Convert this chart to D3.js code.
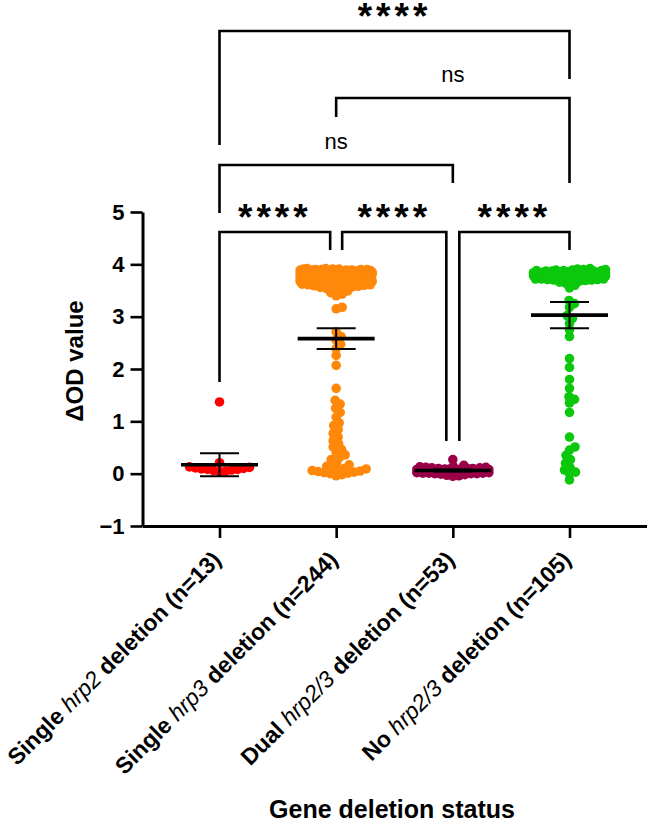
<!DOCTYPE html>
<html>
<head>
<meta charset="utf-8">
<script src="https://cdn.jsdelivr.net/npm/d3@7/dist/d3.min.js"></script>
<style>
  html, body { margin: 0; padding: 0; background: #ffffff; }
  svg { display: block; font-family: Arial, "Liberation Sans", sans-serif; }
</style>
</head>
<body>
<svg id="chart" width="649" height="823"></svg>
<script>
// ---------------- DATA ----------------
const categories = ["hrp2", "hrp3", "dual", "none"];
const labelPrefix = ["Single", "Single", "Dual", "No"];
const labelGene = ["hrp2", "hrp3", "hrp2/3", "hrp2/3"];
const labelSuffix = ["deletion (n=13)", "deletion (n=244)", "deletion (n=53)", "deletion (n=105)"];
const colors = ["#ff0000", "#ff880a", "#990048", "#0cc80c"];

const valuesHrp2 = [1.37, 0.21, 0.13, 0.12, 0.11, 0.10, 0.09, 0.08, 0.08, 0.07, 0.06, 0.05, 0.04];

const valuesHrp3 = [
  3.92,3.92,
  3.91,3.91,3.91,
  3.90,3.90,3.90,3.90,
  3.89,3.89,3.89,3.89,3.89,
  3.88,3.88,3.88,3.88,3.88,3.88,
  3.87,3.87,3.87,3.87,3.87,3.87,
  3.86,3.86,3.86,3.86,3.86,3.86,3.86,3.86,
  3.85,3.85,3.85,3.85,3.85,3.85,3.85,3.85,3.85,
  3.84,3.84,3.84,3.84,3.84,3.84,3.84,3.84,3.84,
  3.83,3.83,3.83,3.83,3.83,3.83,3.83,3.83,3.83,
  3.82,3.82,3.82,3.82,3.82,3.82,3.82,3.82,3.82,
  3.81,3.81,3.81,3.81,3.81,3.81,3.81,3.81,3.81,
  3.80,3.80,3.80,3.80,3.80,3.80,3.80,3.80,3.80,
  3.79,3.79,3.79,3.79,3.79,3.79,3.79,3.79,3.79,
  3.78,3.78,3.78,3.78,3.78,3.78,3.78,3.78,3.78,
  3.77,3.77,3.77,3.77,3.77,3.77,3.77,3.77,
  3.76,3.76,3.76,3.76,3.76,3.76,3.76,
  3.75,3.75,3.75,3.75,3.75,3.75,3.75,
  3.74,3.74,3.74,3.74,3.74,3.74,3.74,
  3.73,3.73,3.73,3.73,3.73,3.73,3.73,
  3.72,3.72,3.72,3.72,3.72,3.72,
  3.71,3.71,3.71,3.71,3.71,
  3.70,3.70,3.70,3.70,3.70,
  3.69,3.69,3.69,3.69,3.69,
  3.68,3.68,3.68,3.68,
  3.67,3.67,3.67,3.67,
  3.66,3.66,3.66,3.66,
  3.65,3.65,3.65,
  3.64,3.64,3.64,
  3.63,3.63, 3.62,3.62, 3.61,3.61, 3.60,3.60,
  3.59, 3.58, 3.57, 3.56, 3.55, 3.54,
  3.52, 3.49, 3.46, 3.43, 3.40,
  3.18, 3.15, 2.71, 2.62, 2.55, 2.47, 2.39, 2.26, 2.07, 1.63,
  1.40, 1.33, 1.25, 1.17, 1.08, 0.97,
  0.92, 0.84, 0.77, 0.70, 0.63, 0.57, 0.51, 0.46, 0.41, 0.36,
  0.31, 0.27,
  0.21, 0.17, 0.14, 0.12, 0.10, 0.09, 0.07, 0.06, 0.05, 0.04,
  0.03, 0.02, 0.01, 0.00, -0.02, -0.04
];

const valuesDual = [
  0.27, 0.16, 0.14, 0.13, 0.12, 0.12, 0.11, 0.11, 0.10, 0.10,
  0.10, 0.09, 0.09, 0.09, 0.08, 0.08, 0.08, 0.08, 0.07, 0.07,
  0.07, 0.07, 0.06, 0.06, 0.06, 0.06, 0.05, 0.05, 0.05, 0.05,
  0.04, 0.04, 0.04, 0.04, 0.03, 0.03, 0.03, 0.03, 0.02, 0.02,
  0.02, 0.02, 0.01, 0.01, 0.01, 0.00, 0.00, 0.00, -0.01, -0.02,
  -0.03, -0.04, -0.05
];

const valuesNone = [
  3.92, 3.91, 3.90, 3.90, 3.89, 3.89, 3.88, 3.88, 3.88,
  3.87, 3.87, 3.87, 3.86, 3.86, 3.86,
  3.85, 3.85, 3.85, 3.85, 3.84, 3.84, 3.84, 3.84,
  3.83, 3.83, 3.83, 3.83, 3.82, 3.82, 3.82, 3.82,
  3.81, 3.81, 3.81, 3.81, 3.80, 3.80, 3.80, 3.80,
  3.79, 3.79, 3.79, 3.79, 3.78, 3.78, 3.78, 3.78,
  3.77, 3.77, 3.77, 3.77, 3.76, 3.76, 3.76, 3.76,
  3.75, 3.75, 3.75, 3.74, 3.74, 3.74, 3.73, 3.73, 3.73, 3.72, 3.72, 3.72,
  3.71, 3.71, 3.70, 3.70, 3.69, 3.69,
  3.68, 3.66, 3.64, 3.60, 3.55,
  3.31, 3.25, 3.18, 3.02, 2.97, 2.87, 2.75, 2.62, 2.20, 2.03,
  1.80, 1.63, 1.47, 1.42, 1.35, 1.17, 0.70, 0.51, 0.45, 0.35,
  0.27, 0.20, 0.12, 0.07, 0.03, 0.00, -0.12
];

const groupValues = [valuesHrp2, valuesHrp3, valuesDual, valuesNone];

// mean and 95% CI
const means = [0.17, 2.58, 0.06, 3.03];
const ciLow = [-0.05, 2.38, 0.04, 2.78];
const ciHigh = [0.39, 2.78, 0.08, 3.28];

const yTicks = [-1, 0, 1, 2, 3, 4, 5];

// multiple comparisons
const compA = [0, 1, 2, 0, 1, 0];
const compB = [1, 2, 3, 2, 3, 3];
const compLabel = ["****", "****", "****", "ns", "ns", "****"];

const yTitle = "ΔOD value";
const xTitle = "Gene deletion status";

// ---------------- LAYOUT ----------------
const svg = d3.select("#chart");
svg.append("rect").attr("width", 649).attr("height", 823).attr("fill", "#fff");

const y = d3.scaleLinear().domain([-1, 5]).range([526, 212]);
const x = d3.scalePoint().domain(categories).range([142.5, 646.5]).padding(0.66);

const R = 4.8, MIN_D = 6, HALF_W = 36;

function swarm(vals, cx) {
  const order = vals.map((v, i) => i).sort((a, b) => vals[a] - vals[b]);
  const cands = [0];
  for (let k = 1; k <= HALF_W * 2; k++) { cands.push(k / 2); cands.push(-k / 2); }
  const placed = [];
  const out = [];
  for (const i of order) {
    const yy = y(vals[i]);
    let best = 0, bestD = -1;
    for (const o of cands) {
      let md = Infinity;
      for (const p of placed) {
        const dy = p.y - yy;
        if (Math.abs(dy) >= MIN_D) continue;
        const d = Math.hypot(p.x - o, dy);
        if (d < md) md = d;
      }
      if (md >= MIN_D) { best = o; bestD = md; break; }
      if (md > bestD + 1e-9) { bestD = md; best = o; }
    }
    placed.push({ x: best, y: yy });
    out.push({ cx: cx + best, cy: yy });
  }
  return out;
}

// axes
const yAxis = d3.axisLeft(y).tickValues(yTicks).tickSize(12).tickSizeOuter(0).tickPadding(6).tickFormat(d3.format("d"));
const gy = svg.append("g").attr("transform", "translate(142.5,0)").call(yAxis);
gy.select(".domain").attr("stroke", "#000").attr("stroke-width", 3);
gy.selectAll(".tick line").attr("stroke", "#000").attr("stroke-width", 2.6);
gy.selectAll(".tick text").attr("fill", "#000").style("font-size", "22px").style("font-weight", "bold")
  .attr("font-family", null);

const xAxis = d3.axisBottom(x).tickSize(12).tickSizeOuter(0).tickFormat("");
const gx = svg.append("g").attr("transform", "translate(0,526)").call(xAxis);
gx.select(".domain").attr("stroke", "#000").attr("stroke-width", 3);
gx.selectAll(".tick line").attr("stroke", "#000").attr("stroke-width", 2.6);
gx.selectAll(".tick text").remove();

// category labels
categories.forEach((c, i) => {
  const t = svg.append("text")
    .attr("transform", `translate(${x(c) + 3},561) rotate(-45)`)
    .attr("text-anchor", "end")
    .style("font-size", "23px")
    .style("white-space", "pre")
    .attr("fill", "#000");
  t.append("tspan").attr("font-weight", "bold").text(labelPrefix[i] + " ");
  t.append("tspan").attr("font-style", "italic").attr("font-weight", "normal").text(labelGene[i]);
  t.append("tspan").attr("font-weight", "bold").text(" " + labelSuffix[i]);
});

// titles
svg.append("text")
  .attr("transform", "translate(83,361) rotate(-90)")
  .attr("text-anchor", "middle")
  .style("font-size", "24px").style("font-weight", "bold")
  .text(yTitle);
svg.append("text")
  .attr("x", 392).attr("y", 818)
  .attr("text-anchor", "middle")
  .style("font-size", "25px").style("font-weight", "bold")
  .text(xTitle);

// points
groupValues.forEach((vals, gi) => {
  const pts = swarm(vals, x(categories[gi]));
  svg.append("g").selectAll("circle").data(pts).join("circle")
    .attr("cx", d => d.cx).attr("cy", d => d.cy).attr("r", R)
    .attr("fill", colors[gi]);
});

// mean + CI
categories.forEach((c, i) => {
  const cx = x(c);
  const g = svg.append("g").attr("stroke", "#000");
  g.append("line").attr("x1", cx).attr("x2", cx).attr("y1", y(ciLow[i])).attr("y2", y(ciHigh[i])).attr("stroke-width", 2);
  g.append("line").attr("x1", cx - 19.5).attr("x2", cx + 19.5).attr("y1", y(ciLow[i])).attr("y2", y(ciLow[i])).attr("stroke-width", 2);
  g.append("line").attr("x1", cx - 19.5).attr("x2", cx + 19.5).attr("y1", y(ciHigh[i])).attr("y2", y(ciHigh[i])).attr("stroke-width", 2);
  g.append("line").attr("x1", cx - 38.5).attr("x2", cx + 38.5).attr("y1", y(means[i])).attr("y2", y(means[i])).attr("stroke-width", 3.6);
});

// brackets (pixel layout)
const bracketLayout = [
  { hy: 232, offL: 0, legL: 382, offR: -6, legR: 250 },
  { hy: 232, offL: 6, legL: 250, offR: -6.5, legR: 441 },
  { hy: 232, offL: 6.5, legL: 441, offR: 0, legR: 250 },
  { hy: 165, offL: 0, legL: 213, offR: 0, legR: 183 },
  { hy: 98, offL: 0, legL: 117, offR: 0, legR: 183 },
  { hy: 31, offL: 0, legL: 145, offR: 0, legR: 79 }
];
compA.forEach((a, k) => {
  const L = bracketLayout[k];
  const xl = x(categories[a]) + L.offL;
  const xr = x(categories[compB[k]]) + L.offR;
  svg.append("path")
    .attr("d", `M${xl},${L.legL}V${L.hy}H${xr}V${L.legR}`)
    .attr("fill", "none").attr("stroke", "#000").attr("stroke-width", 2.6);
  const mx = (xl + xr) / 2;
  if (compLabel[k] === "ns") {
    svg.append("text").attr("x", mx).attr("y", L.hy - 16)
      .attr("text-anchor", "middle").style("font-size", "22px")
      .text(compLabel[k]);
  } else {
    svg.append("text").attr("x", mx).attr("y", L.hy - 2)
      .attr("text-anchor", "middle").style("font-size", "37px").style("font-weight", "bold")
      .style("letter-spacing", "4px")
      .text(compLabel[k]);
  }
});
</script>
</body>
</html>
